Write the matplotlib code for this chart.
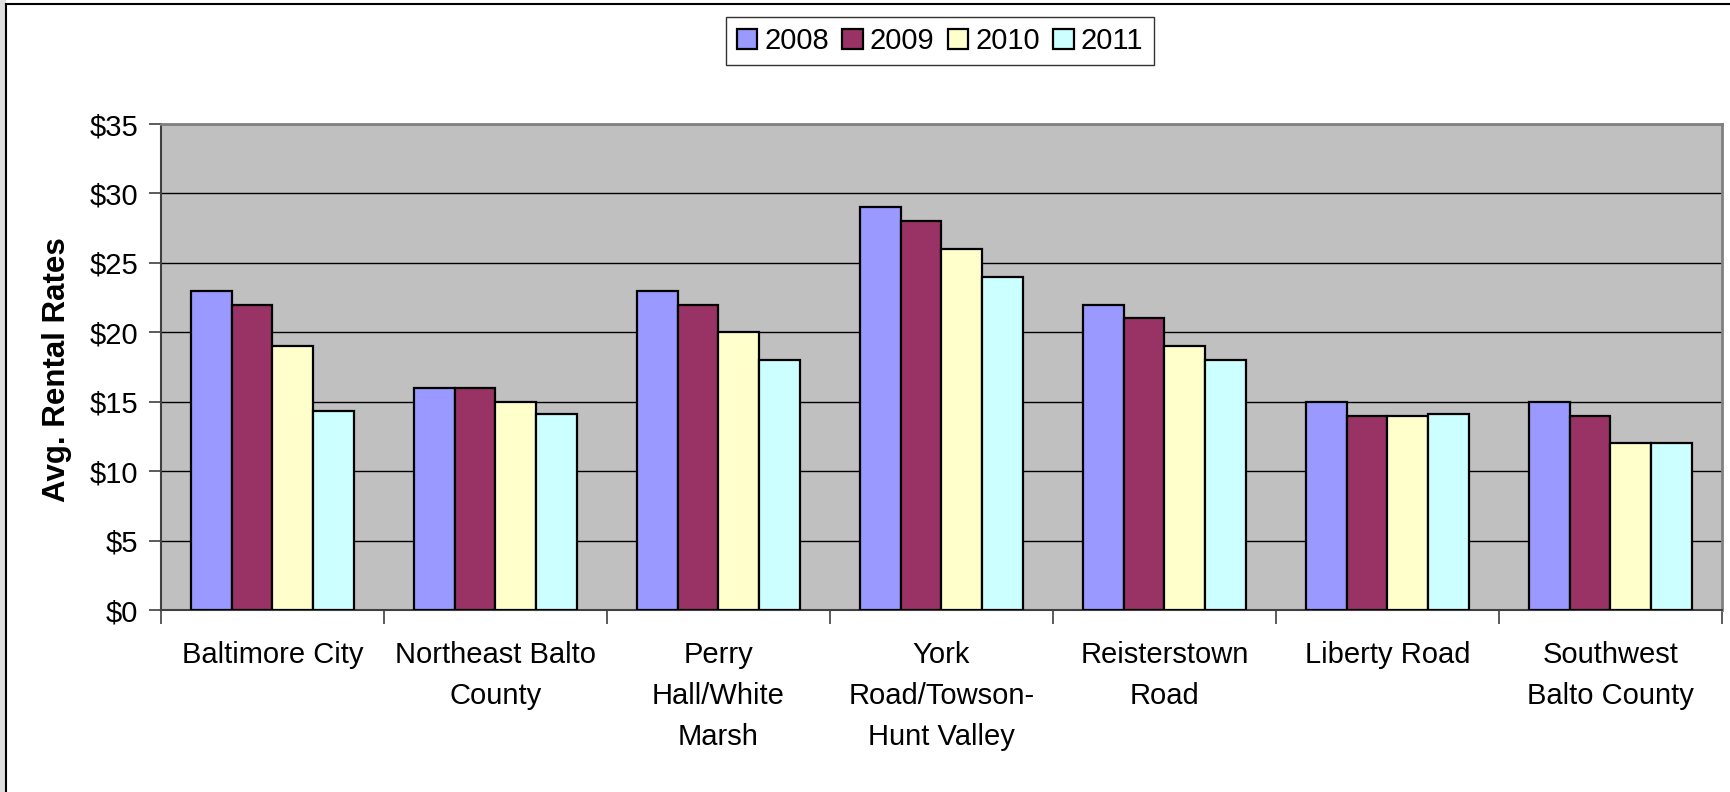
import numpy as np
import matplotlib
matplotlib.use("Agg")
import matplotlib.pyplot as plt
from matplotlib.patches import Rectangle
from matplotlib.lines import Line2D

# --------------------------
# data
# --------------------------
regions = [
    "Baltimore City",
    "Northeast Balto\nCounty",
    "Perry\nHall/White\nMarsh",
    "York\nRoad/Towson-\nHunt Valley",
    "Reisterstown\nRoad",
    "Liberty Road",
    "Southwest\nBalto County",
]
years = ["2008", "2009", "2010", "2011"]
rate_2008 = [23, 16, 23, 29, 22, 15, 15]
rate_2009 = [22, 16, 22, 28, 21, 14, 14]
rate_2010 = [19, 15, 20, 26, 19, 14, 12]
rate_2011 = [14.3, 14.1, 18, 24, 18, 14.1, 12]
yticks = [0, 5, 10, 15, 20, 25, 30, 35]

colors = ["#9999FF", "#993366", "#FFFFCC", "#CCFFFF"]

# --------------------------
# plot
# --------------------------
plt.rcParams["font.family"] = ["Liberation Sans", "DejaVu Sans"]

W, H = 1731, 792
fig = plt.figure(figsize=(W / 100, H / 100), dpi=100, facecolor="white")

# outer frame like the original sheet
fig.add_artist(Rectangle((0, 0), 6 / W, 1, transform=fig.transFigure,
                         facecolor="#dedede", edgecolor="none"))
fig.add_artist(Line2D([6 / W, 6 / W], [0, 1 - 4 / H], transform=fig.transFigure,
                      color="black", lw=1.5))
fig.add_artist(Line2D([6 / W, 1], [1 - 4 / H, 1 - 4 / H], transform=fig.transFigure,
                      color="black", lw=1.5))

ax = fig.add_axes([161 / W, 1 - 610 / H, (1722 - 161) / W, (610 - 124) / H])
ax.set_facecolor("#C0C0C0")

x = np.arange(len(regions))
bw = 0.183
series = [rate_2008, rate_2009, rate_2010, rate_2011]
for i, (vals, col, yr) in enumerate(zip(series, colors, years)):
    ax.bar(x + (i - 1.5) * bw, vals, width=bw, color=col, edgecolor="black",
           linewidth=1.6, label=yr, zorder=3)

ax.set_xlim(-0.5, len(regions) - 0.5)
ax.set_ylim(0, 35)
ax.set_yticks(yticks)
ax.set_yticklabels(["$%d" % v for v in yticks])
ax.yaxis.grid(True, color="black", linewidth=1.0, zorder=1)
ax.set_axisbelow(True)

ax.set_xticks(x)
ax.set_xticklabels(regions, linespacing=1.6, va="top")
ax.set_xticks(np.arange(-0.5, len(regions), 1), minor=True)
ax.tick_params(axis="x", which="major", length=0, pad=22, labelsize=21)
ax.tick_params(axis="x", which="minor", length=10, width=1.2, color="#404040", direction="out")
ax.tick_params(axis="y", length=9, width=1.2, color="#404040", direction="out", pad=7.5,
               labelsize=21)

for side in ["left", "bottom"]:
    ax.spines[side].set_color("#404040")
    ax.spines[side].set_linewidth(1.5)
for side in ["top", "right"]:
    ax.spines[side].set_color("#808080")
    ax.spines[side].set_linewidth(2)

fig.text(57 / W, 1 - 370 / H, "Avg. Rental Rates", rotation=90, ha="center", va="center",
         fontsize=22.5, fontweight="bold")

leg = fig.legend(loc="center", bbox_to_anchor=(940 / W, 1 - 41 / H), ncol=4, fontsize=21,
                 handlelength=0.7, handleheight=0.7, handletextpad=0.25, columnspacing=0.45,
                 borderpad=0.35, frameon=True, fancybox=False, edgecolor="black")
leg.get_frame().set_linewidth(1.0)

fig.savefig("out.png", dpi=100)
